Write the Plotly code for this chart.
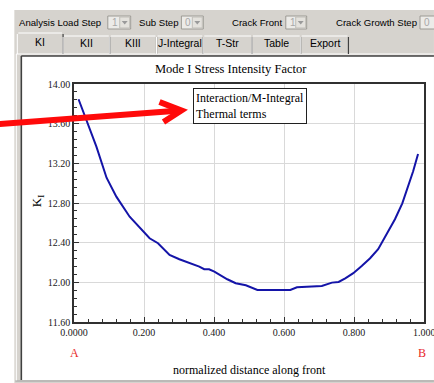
import plotly.graph_objects as go

# KI along the crack front
dist = [0.013, 0.038, 0.064, 0.093, 0.121, 0.159, 0.197, 0.216, 0.240, 0.273,
        0.301, 0.330, 0.358, 0.372, 0.386, 0.401, 0.438, 0.462, 0.491, 0.524,
        0.560, 0.600, 0.618, 0.637, 0.661, 0.708, 0.737, 0.756, 0.775, 0.798,
        0.822, 0.846, 0.869, 0.893, 0.917, 0.938, 0.955, 0.969, 0.983]
k1 = [13.846, 13.604, 13.368, 13.055, 12.864, 12.662, 12.511, 12.444, 12.394, 12.276,
      12.233, 12.199, 12.159, 12.132, 12.132, 12.108, 12.031, 11.991, 11.970, 11.923,
      11.921, 11.921, 11.923, 11.950, 11.957, 11.964, 11.997, 12.004, 12.041, 12.092,
      12.165, 12.243, 12.334, 12.478, 12.636, 12.797, 12.965, 13.120, 13.294]

x_ticks = [0.0, 0.2, 0.4, 0.6, 0.8, 1.0]
x_ticktext = ["0.0000", "0.200", "0.400", "0.600", "0.800", "1.000"]
y_ticks = [11.6, 12.0, 12.4, 12.8, 13.2, 13.6, 14.0]

tabs = ["KI", "KII", "KIII", "J-Integral", "T-Str", "Table", "Export"]
tab_edges = [17, 63, 110, 157, 204, 253, 302, 350]
toolbar = [("Analysis Load Step", 17, "1", 108, 131),
           ("Sub Step", 137, "0", 182, 204),
           ("Crack Front", 231, "1", 287, 308),
           ("Crack Growth Step", 335, "0", 422, 446)]

W, H = 434, 383
L, R, T, B = 74, 426, 84, 322
GRAY = "#d6d3ce"
SERIF = "Liberation Serif"
SANS = "Liberation Sans"


def px(x):
    return (x - L) / (R - L)


def py(y):
    return (B - y) / (B - T)


def rect(x0, y0, x1, y1, fill=None, line=None, width=1, layer="below"):
    return dict(type="rect", xref="paper", yref="paper",
                x0=px(x0), y0=py(y1), x1=px(x1), y1=py(y0),
                fillcolor=fill or "rgba(0,0,0,0)",
                line=dict(color=line or "rgba(0,0,0,0)", width=width if line else 0),
                layer=layer)


def seg(x0, y0, x1, y1, color, width=1, layer="below"):
    return dict(type="line", xref="paper", yref="paper",
                x0=px(x0), y0=py(y0), x1=px(x1), y1=py(y1),
                line=dict(color=color, width=width), layer=layer)


def label(x, y, text, size=11, color="black", family=SANS, xanchor="center", **kw):
    return dict(xref="paper", yref="paper", x=px(x), y=py(y), text=text,
                showarrow=False, xanchor=xanchor, yanchor="middle",
                font=dict(family=family, size=size, color=color), **kw)


fig = go.Figure()
fig.add_trace(go.Scatter(x=dist, y=k1, mode="lines",
                         line=dict(color="#1414a8", width=2), showlegend=False,
                         hoverinfo="skip"))

shapes = []
annots = []

# window chrome
shapes.append(rect(14, 10, W + 2, H + 2, fill=GRAY))
shapes.append(rect(22, 56, W + 2, 380, fill="white"))
shapes.append(seg(21, 56, 21, 380, "#404040", 1.5))
shapes.append(seg(21, 56, W + 2, 56, "#404040", 1.5))
shapes.append(seg(16, 54, W + 2, 54, "white", 1))
shapes.append(seg(16, 54, 16, 381, "white", 1))
shapes.append(seg(15, 381, W + 2, 381, "#a0a0a0", 1))

# toolbar
for name, tx, val, bx0, bx1 in toolbar:
    annots.append(label(tx, 22, name, size=9.6, xanchor="left"))
    shapes.append(rect(bx0, 16, bx1, 29, fill="#ecebe8", line="#9c9a94"))
    annots.append(label(bx0 + 2, 22.5, val, size=10, color="#a8a8a8", xanchor="left"))
    if bx1 < W:
        shapes.append(rect(bx1 - 11, 17, bx1 - 1, 28, fill="#e4e2dd", line="#c0beb8"))
        cx = bx1 - 6
        shapes.append(dict(type="path", xref="paper", yref="paper", layer="below",
                           path=f"M {px(cx - 3)},{py(21)} L {px(cx + 3)},{py(21)} "
                                f"L {px(cx)},{py(24.5)} Z",
                           fillcolor="#9a9a9a", line=dict(width=0)))

# tabs
for i, name in enumerate(tabs):
    x0, x1 = tab_edges[i], tab_edges[i + 1]
    top = 33 if i == 0 else 36
    shapes.append(seg(x0 + 1, top, x1 - 1, top, "white", 1))
    shapes.append(seg(x0, top + 1, x0, 54, "white", 1))
    shapes.append(seg(x1, top + 1, x1, 54, "#404040", 1.2))
    annots.append(label((x0 + x1) / 2, 43 if i else 42, name, size=10.5))

# chart texts
annots.append(label(232, 69, "Mode I Stress Intensity Factor", size=12.5, family=SERIF))
annots.append(label(250, 370, "normalized distance along front", size=12, family=SERIF))
annots.append(label(74, 353, "A", size=12, color="#e8282a", family=SERIF))
annots.append(label(424, 353, "B", size=12, color="#e8282a", family=SERIF))
annots.append(label(37, 201, "K<sub>I</sub>", size=13, family=SERIF, textangle=-90))
# last x tick label runs past the window edge, plotly drops it, so place it by hand
annots.append(dict(xref="x", yref="paper", x=x_ticks[-1], y=py(332),
                   text=x_ticktext[-1], showarrow=False, xanchor="center",
                   yanchor="middle", font=dict(family=SERIF, size=10, color="#202020")))
annots.append(dict(xref="paper", yref="paper", x=px(194), y=py(88),
                   xanchor="left", yanchor="top", showarrow=False, align="left",
                   text="Interaction/M-Integral<br>Thermal terms",
                   font=dict(family=SERIF, size=12, color="black"),
                   bordercolor="#202020", borderwidth=1, borderpad=2,
                   bgcolor="white"))

# red arrow
shapes.append(dict(type="path", xref="paper", yref="paper", layer="above",
                   path=f"M {px(-2)},{py(124)} L {px(181)},{py(110.5)}",
                   line=dict(color="#ff0a0a", width=6)))
shapes.append(dict(type="path", xref="paper", yref="paper", layer="above",
                   path=f"M {px(160)},{py(102)} L {px(182)},{py(110.5)} L {px(164)},{py(122)}",
                   line=dict(color="#ff0a0a", width=6)))

fig.update_layout(
    width=W, height=H,
    margin=dict(l=L, r=W - R, t=T, b=H - B),
    paper_bgcolor="white", plot_bgcolor="white",
    shapes=shapes, annotations=annots, showlegend=False,
)
fig.update_xaxes(range=[0, 1], tickvals=x_ticks, ticktext=x_ticktext,
                 showgrid=True, gridcolor="#d9d9d9", gridwidth=1,
                 showline=True, linecolor="#303030", linewidth=1.5, mirror=True,
                 ticks="inside", ticklen=5, tickcolor="#303030",
                 minor=dict(dtick=0.04, ticks="inside", ticklen=3, tickcolor="#303030",
                            showgrid=False),
                 tickfont=dict(family=SERIF, size=10, color="#202020"),
                 zeroline=False, fixedrange=True)
fig.update_yaxes(range=[11.6, 14.0], tickvals=y_ticks, tickformat=".2f",
                 showgrid=True, gridcolor="#d9d9d9", gridwidth=1,
                 showline=True, linecolor="#303030", linewidth=1.5, mirror=True,
                 ticks="inside", ticklen=5, tickcolor="#303030",
                 minor=dict(dtick=0.08, ticks="inside", ticklen=3, tickcolor="#303030",
                            showgrid=False),
                 tickfont=dict(family=SERIF, size=10, color="#202020"),
                 zeroline=False, fixedrange=True)

fig.write_html("out.html", config={"displayModeBar": False},
               post_script="document.body.style.margin='0';")
